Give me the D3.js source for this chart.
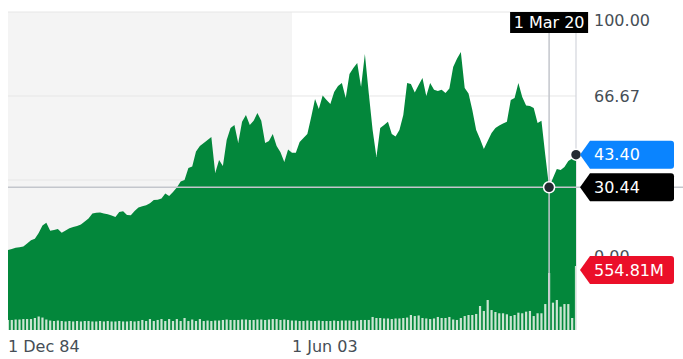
<!DOCTYPE html>
<html><head><meta charset="utf-8">
<script src="https://cdn.jsdelivr.net/npm/d3@7"></script>
<style>body{margin:0;background:#fff}svg{display:block}</style>
</head><body><svg id="c" width="683" height="359"></svg>
<script>
// ---- data (quarterly, Dec 1984 .. Dec 2021) ----
const startDate = "1984-12-01";
const endDate = "2021-12-01";
const closePrices = [
 5.6,6.0,6.4,6.6,6.9,8.1,9.4,10.0,12.3,15.3,
 16.4,13.2,13.5,13.9,12.4,13.3,14.2,14.7,15.1,15.7,
 16.9,18.1,20.0,20.3,20.4,20.0,19.7,19.2,18.7,20.6,
 20.9,19.4,19.3,21.0,22.4,22.9,23.3,24.1,25.4,25.5,
 26.0,28.0,27.0,28.6,30.4,32.7,33.3,38.1,38.7,44.6,
 46.8,48.0,49.2,50.4,36.1,41.3,38.9,49.2,54.0,55.2,
 48.0,56.4,59.1,55.2,56.8,59.9,56.8,48.0,48.8,51.6,
 46.8,44.3,40.5,45.4,44.1,44.1,48.4,50.0,51.6,58.3,
 65.5,61.5,66.9,65.1,63.5,68.3,70.6,71.8,65.9,75.4,
 77.8,79.8,70.2,83.3,67.9,53.2,42.5,54.0,55.2,56.4,
 51.6,50.6,53.2,59.1,71.8,71.4,68.1,71.0,73.8,66.7,
 71.8,69.1,68.7,69.1,67.9,69.6,78.2,81.4,84.1,69.8,
 67.7,61.1,53.2,49.6,45.6,48.8,52.0,54.0,55.0,55.8,
 56.4,65.1,65.9,71.8,66.3,62.9,62.7,61.9,56.0,56.8,
 43.3,30.44,34.1,37.7,37.3,38.5,40.9,41.9,43.40
];
const volumesM = [
 87,87,91,91,95,95,95,104,117,108,
 91,82,78,82,78,74,78,74,78,74,
 78,78,74,74,78,74,78,74,74,78,
 74,74,78,74,78,87,78,95,78,87,
 95,78,95,78,95,78,104,78,91,78,
 95,78,82,78,82,82,87,91,87,87,
 87,91,91,87,87,91,91,87,91,95,
 95,87,91,87,82,82,78,78,82,78,
 78,82,78,78,78,82,78,82,82,82,
 78,82,87,87,87,113,104,104,100,100,
 95,100,100,104,108,130,121,126,104,100,
 95,100,113,104,104,113,91,87,104,121,
 130,130,139,208,165,260,173,156,145,145,
 136,121,130,150,145,159,165,121,145,145,
 225,494,237,260,202,225,225,104,554.81
];
const gridValues = [0, 33.33, 66.67, 100];
const yTickLabels = [0, 66.67, 100];
const xTickDates = ["1984-12-01", "2003-06-01"];
const xTickLabels = ["1 Dec 84", "1 Jun 03"];
const shadeEndDate = "2003-06-01";
const hoverDate = "2020-03-01";
const hoverLabel = "1 Mar 20";

// ---- setup ----
const parse = d3.utcParse("%Y-%m-%d");
const dates = d3.utcMonth.range(parse(startDate), d3.utcDay.offset(parse(endDate), 1), 3);
const data = dates.map((d, i) => ({date: d, price: closePrices[i], vol: volumesM[i]}));
const L = 8, R = 576, T = 12, B = 330;
const svg = d3.select("#c");
const font = "'DejaVu Sans', sans-serif";
const x = d3.scaleUtc().domain([parse(startDate), parse(endDate)]).range([L, R]);
const y = d3.scaleLinear().domain([0, 100]).range([264, T]);
const yVol = d3.scaleLinear().domain([0, d3.max(volumesM)]).range([B, 266]);
const last = data[data.length - 1];
const hover = data.find(d => +d.date === +parse(hoverDate));

svg.append("defs").append("clipPath").attr("id", "plot")
  .append("rect").attr("x", L).attr("y", T).attr("width", R - L).attr("height", B - T);

// shaded period
svg.append("rect").attr("x", L).attr("y", T)
  .attr("width", x(parse(shadeEndDate)) - L).attr("height", B - T).attr("fill", "#f4f4f4");

// gridlines
svg.append("g").selectAll("line").data(gridValues).join("line")
  .attr("x1", L).attr("x2", R).attr("y1", d => y(d)).attr("y2", d => y(d))
  .attr("stroke", "#e6e6e6").attr("stroke-width", 1);

// last point vertical
svg.append("line").attr("x1", x(last.date)).attr("x2", x(last.date))
  .attr("y1", 33).attr("y2", B).attr("stroke", "#d3d6dc").attr("stroke-width", 1.2);

// area
svg.append("path").datum(data)
  .attr("d", d3.area().x(d => x(d.date)).y0(B).y1(d => y(d.price)))
  .attr("fill", "#03873b");

// volume bars
svg.append("g").attr("clip-path", "url(#plot)").selectAll("rect").data(data).join("rect")
  .attr("x", d => x(d.date) - 1.1).attr("width", 2.2)
  .attr("y", d => yVol(d.vol)).attr("height", d => B - yVol(d.vol))
  .attr("fill", "#cbe5d2");

// crosshair
svg.append("line").attr("x1", x(hover.date)).attr("x2", x(hover.date))
  .attr("y1", 33).attr("y2", B).attr("stroke", "#c3c6cc").attr("stroke-width", 1.5);
svg.append("line").attr("x1", L).attr("x2", 683)
  .attr("y1", y(hover.price)).attr("y2", y(hover.price)).attr("stroke", "#c3c6cc").attr("stroke-width", 1.5);

// y axis labels
svg.append("g").selectAll("text").data(yTickLabels).join("text")
  .attr("x", 594).attr("y", d => Math.max(20, Math.min(256, y(d))) + 5.8)
  .attr("font-family", font).attr("font-size", 16).attr("fill", "#464e56")
  .text(d => d.toFixed(2));

// x axis labels
svg.append("g").selectAll("text").data(xTickDates).join("text")
  .attr("x", d => x(parse(d))).attr("y", 352)
  .attr("font-family", font).attr("font-size", 16).attr("fill", "#464e56")
  .text((d, i) => xTickLabels[i]);

// dots
[[hover.date, hover.price], [last.date, last.price]].forEach(([d, p]) => {
  svg.append("circle").attr("cx", x(d)).attr("cy", y(p)).attr("r", 5.5)
    .attr("fill", "#232a31").attr("stroke", "#fff").attr("stroke-width", 1.5);
});

// tags
function tag(cy, color, txt) {
  const h = 14;
  svg.append("path")
    .attr("d", `M580,${cy} L590,${cy - h} H671 Q674,${cy - h} 674,${cy - h + 3} V${cy + h - 3} Q674,${cy + h} 671,${cy + h} H590 Z`)
    .attr("fill", color);
  svg.append("text").attr("x", 594).attr("y", cy + 5.8)
    .attr("font-family", font).attr("font-size", 16).attr("fill", "#fff").text(txt);
}
tag(y(last.price), "#0a84ff", last.price.toFixed(2));
tag(y(hover.price), "#000", hover.price.toFixed(2));
tag(yVol(last.vol) + 4, "#eb0f29", last.vol.toFixed(2) + "M");

// date tag
const hx = x(hover.date);
svg.append("rect").attr("x", hx - 39).attr("y", 12).attr("width", 78).attr("height", 21).attr("fill", "#000");
svg.append("text").attr("x", hx).attr("y", 28).attr("text-anchor", "middle")
  .attr("font-family", font).attr("font-size", 16).attr("fill", "#fff").text(hoverLabel);
</script></body></html>
